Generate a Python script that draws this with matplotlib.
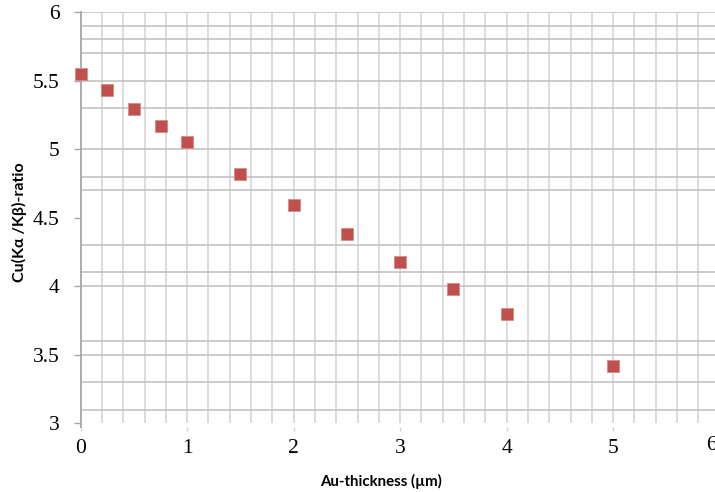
import numpy as np
import matplotlib
matplotlib.use("Agg")
import matplotlib.pyplot as plt
from matplotlib.ticker import FixedLocator

# ---- data ----
thickness = [0, 0.25, 0.5, 0.75, 1.0, 1.5, 2.0, 2.5, 3.0, 3.5, 4.0, 5.0]
ratio = [5.55, 5.43, 5.29, 5.17, 5.05, 4.82, 4.59, 4.38, 4.18, 3.98, 3.80, 3.42]
x_ticks = [0, 1, 2, 3, 4, 5]
x_tick_labels = ["0", "1", "2", "3", "4", "5"]
y_ticks = [3, 3.5, 4, 4.5, 5, 5.5, 6]
y_tick_labels = ["3", "3.5", "4", "4.5", "5", "5.5", "6"]
h_grid = [3.1, 3.3, 3.5, 3.6, 4.0, 4.1, 4.3, 4.7, 4.8, 5.0, 5.3, 5.5, 5.7, 5.8, 5.9, 6.0]
v_grid_step = 0.2
x_label = "Au-thickness (µm)"
y_label = "Cu(Kα /Kβ)-ratio"

W, H = 715, 492
fig = plt.figure(figsize=(W / 100, H / 100), dpi=100)
ax = fig.add_axes([80.7 / W, 1 - 426.7 / H, (W - 80.7) / W, (426.7 - 12) / H])

ax.set_xlim(0, 5.956)
ax.set_ylim(2.975, 6.0)

# grid
v_grid = np.arange(0, 6.0 + 1e-9, v_grid_step)
for xv in v_grid[1:]:
    ax.plot([xv, xv], [3.0, 6.0], color="#dcdcdc", lw=1.4, zorder=1, solid_capstyle="butt")
for yv in h_grid:
    ax.axhline(yv, color="#c4c4c4", lw=1.2, zorder=1)

# data
ax.scatter(thickness, ratio, marker="s", s=72, color="#C0504D",
           edgecolors="#d98a88", linewidths=0.6, zorder=3, clip_on=False)

# spines
for s in ["top", "right", "bottom"]:
    ax.spines[s].set_visible(False)
ax.spines["left"].set_color("#a6a6a6")
ax.spines["left"].set_linewidth(1.3)

serif = ["Liberation Serif", "DejaVu Serif"]
ax.yaxis.set_major_locator(FixedLocator(y_ticks))
ax.set_yticklabels(y_tick_labels, fontfamily=serif, fontsize=15.5)
ax.tick_params(axis="y", length=5, color="#a6a6a6", pad=10, width=1)
ax.xaxis.set_major_locator(FixedLocator(x_ticks))
ax.set_xticklabels(x_tick_labels, fontfamily=serif, fontsize=15.5)
ax.tick_params(axis="x", length=3, color="#d0d0d0", pad=6, width=1)

# clipped "6" label at the right edge
ax.text(5.92, -0.022, "6", transform=ax.get_xaxis_transform(), ha="center", va="top",
        fontfamily=serif, fontsize=15.5, clip_on=False)

ax.set_xlabel(x_label, fontfamily=["Lato", "DejaVu Sans"], fontweight="bold", fontsize=10.8)
ax.xaxis.set_label_coords(0.473, -0.114)
ax.set_ylabel(y_label, fontfamily=["Lato", "DejaVu Sans"], fontweight="bold", fontsize=11.5)
ax.yaxis.set_label_coords(-0.084, 0.494)

fig.savefig("out.png", dpi=100)
